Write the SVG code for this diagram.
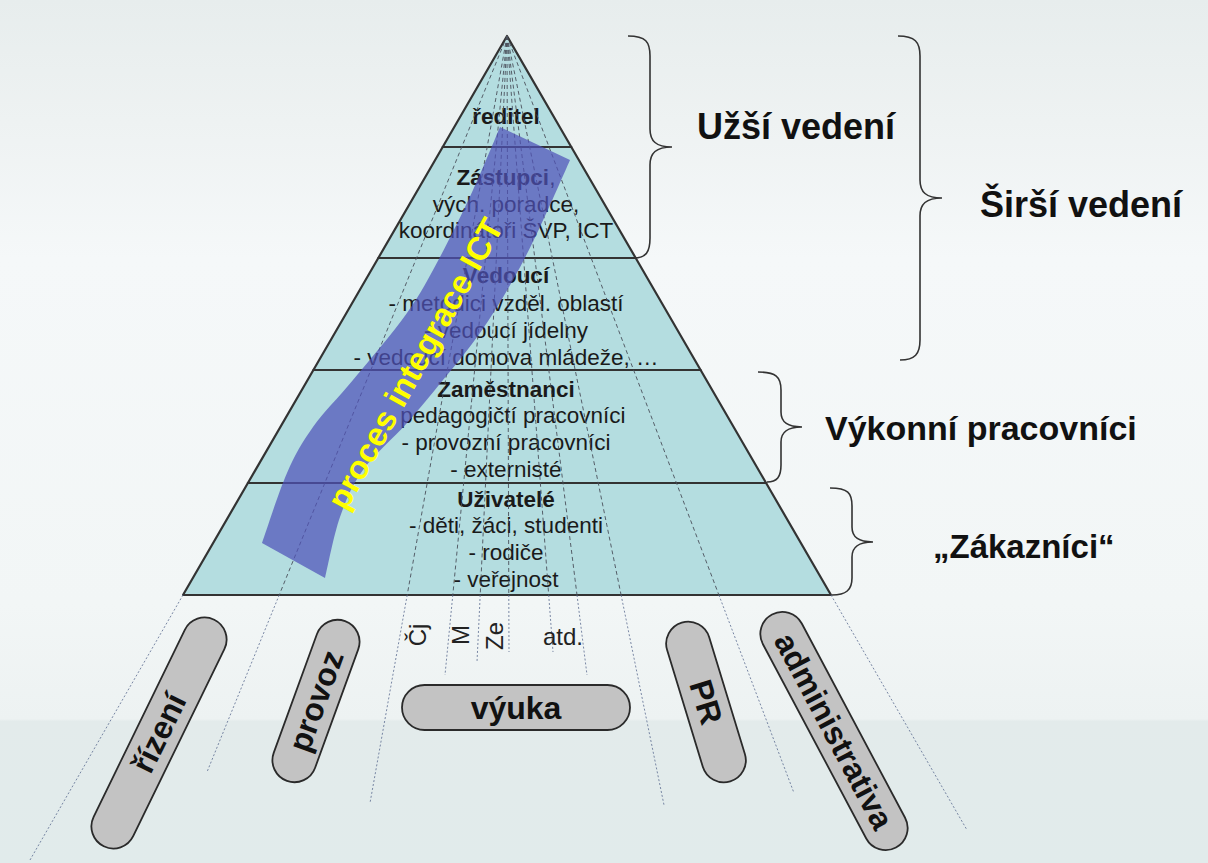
<svg xmlns="http://www.w3.org/2000/svg" width="1208" height="863" viewBox="0 0 1208 863">
<defs>
<linearGradient id="bg" x1="0" y1="0" x2="0" y2="1">
<stop offset="0" stop-color="#e7eded"/>
<stop offset="0.14" stop-color="#eef2f2"/>
<stop offset="0.3" stop-color="#f5f8f9"/>
<stop offset="0.7" stop-color="#f2f6f6"/>
<stop offset="0.833" stop-color="#edf2f2"/>
<stop offset="0.836" stop-color="#e3ebeb"/>
<stop offset="1" stop-color="#e1ebeb"/>
</linearGradient>
<style>
.lvl { fill:#b4dde0; stroke:#333; stroke-width:2.2; stroke-linejoin:round }
.t { font-family:"Liberation Sans",Arial,sans-serif; font-size:22.5px; fill:#1a1a1a; text-anchor:middle }
.b { font-weight:bold }
.ray-in { stroke:#4a4f5a; stroke-width:0.9; stroke-dasharray:4 3; fill:none }
.ray-out { stroke:#5b6b8f; stroke-width:0.8; stroke-dasharray:2 2; fill:none }
.brace { fill:none; stroke:#333; stroke-width:1.6 }
.lbl { font-family:"Liberation Sans",Arial,sans-serif; font-weight:bold; font-size:34px; fill:#111 }
.pill { fill:#c3c3c3; stroke:#2a2a2a; stroke-width:1.8 }
.pt { font-family:"Liberation Sans",Arial,sans-serif; font-weight:bold; font-size:32px; fill:#111; text-anchor:middle }
.sub { font-family:"Liberation Sans",Arial,sans-serif; font-size:24px; fill:#222; text-anchor:middle }
.band { fill:#4f52b8; fill-opacity:0.72; stroke:none }
.yt { font-family:"Liberation Sans",Arial,sans-serif; font-weight:bold; font-size:33px; fill:#ffff00; text-anchor:middle }
</style>
</defs>
<rect width="1208" height="863" fill="url(#bg)"/>

<g id="level-reditel">
<polygon class="lvl" points="507,36 571.3,147 442.7,147"/>
<text class="t b" x="506" y="124">ředitel</text>
</g>
<g id="level-zastupci">
<polygon class="lvl" points="442.7,147 571.3,147 635.7,258 378.3,258"/>
<text class="t" x="506" y="185"><tspan class="b">Zástupci</tspan>,</text>
<text class="t" x="506" y="212">vých. poradce,</text>
<text class="t" x="506" y="238">koordinátoři ŠVP, ICT</text>
</g>
<g id="level-vedouci">
<polygon class="lvl" points="378.3,258 635.7,258 700.6,370 313.4,370"/>
<text class="t b" x="506" y="283">Vedoucí</text>
<text class="t" x="506" y="311">- metodici vzděl. oblastí</text>
<text class="t" x="506" y="338">- vedoucí jídelny</text>
<text class="t" x="506" y="365">- vedoucí domova mládeže, …</text>
</g>
<g id="level-zamestnanci">
<polygon class="lvl" points="313.4,370 700.6,370 766.1,483 247.9,483"/>
<text class="t b" x="506" y="397">Zaměstnanci</text>
<text class="t" x="506" y="423">- pedagogičtí pracovníci</text>
<text class="t" x="506" y="450">- provozní pracovníci</text>
<text class="t" x="506" y="477">- externisté</text>
</g>
<g id="level-uzivatele">
<polygon class="lvl" points="247.9,483 766.1,483 831,595 183,595"/>
<text class="t b" x="506" y="507">Uživatelé</text>
<text class="t" x="506" y="533">- děti, žáci, studenti</text>
<text class="t" x="506" y="560">- rodiče</text>
<text class="t" x="506" y="587">- veřejnost</text>
</g>

<g id="connectors">
<path class="ray-out" d="M183,595 L30,860"/>
<path class="ray-in" d="M507,36 L279.2,595"/><path class="ray-out" d="M279.2,595 L207,772"/>
<path class="ray-in" d="M507,36 L407.2,595"/><path class="ray-out" d="M407.2,595 L370,803"/>
<path class="ray-in" d="M507,36 L452.8,595"/><path class="ray-out" d="M452.8,595 L445,675"/>
<path class="ray-in" d="M507,36 L480.2,595"/><path class="ray-out" d="M480.2,595 L477,662"/>
<path class="ray-in" d="M507,36 L508.8,595"/><path class="ray-out" d="M508.8,595 L509,652"/>
<path class="ray-in" d="M507,36 L548.7,595"/><path class="ray-out" d="M548.7,595 L553,652"/>
<path class="ray-in" d="M507,36 L577,595"/><path class="ray-out" d="M577,595 L587,675"/>
<path class="ray-in" d="M507,36 L621.1,595"/><path class="ray-out" d="M621.1,595 L664,805"/>
<path class="ray-in" d="M507,36 L718.9,595"/><path class="ray-out" d="M718.9,595 L794,793"/>
<path class="ray-out" d="M831,595 L967,830"/>
</g>

<g id="band-ict">
<path class="band" d="M262,543 C266.2,531.3 278.5,492.3 287,473 C295.5,453.7 302,442.5 313,427 C324,411.5 337.3,399 353,380 C368.7,361 392.5,333.5 407,313 C421.5,292.5 429,277.5 440,257 C451,236.5 463,211.7 473,190 C483,168.3 495.5,137.5 500,127 L570,160 C565,171.2 549.5,207 540,227 C530.5,247 523,262.3 513,280 C503,297.7 491.7,316.3 480,333 C468.3,349.7 455.2,365 443,380 C430.8,395 420.3,408 407,423 C393.7,438 374.2,454.3 363,470 C351.8,485.7 346.3,499 340,517 C333.7,535 327.5,567.8 325,578 Z"/>
<text class="yt" transform="translate(416,364) rotate(-61)" dy="0.32em">proces integrace ICT</text>
</g>

<g id="brace-uzsi">
<path class="brace" d="M628,36 C646,36 650,42 650,56 L650,129 C650,141 656,147 672,147 C656,147 650,153 650,165 L650,238 C650,252 646,258 634,258"/>
<text class="lbl" x="697" y="139" style="font-size:36px">Užší vedení</text>
</g>
<g id="brace-sirsi">
<path class="brace" d="M898,36 C915,36 920,42 920,56 L920,180 C920,192 926,198 942,198 C926,198 920,204 920,216 L920,340 C920,354 915,360 900,360"/>
<text class="lbl" x="980" y="217" style="font-size:36px">Širší vedení</text>
</g>
<g id="brace-vykonni">
<path class="brace" d="M758,372 C776,372 781,377 781,390 L781,412 C781,422 787,427 802,427 C787,427 781,432 781,442 L781,465 C781,477 777,482 767,482"/>
<text class="lbl" x="825" y="440">Výkonní pracovníci</text>
</g>
<g id="brace-zakaznici">
<path class="brace" d="M830,488 C848,488 852,493 852,506 L852,527 C852,537 858,542 873,542 C858,542 852,547 852,557 L852,578 C852,590 846,595 832,595"/>
<text class="lbl" x="933" y="558" style="font-size:33px">„Zákazníci“</text>
</g>

<g id="pill-rizeni" transform="translate(159,733) rotate(-64)">
<rect class="pill" x="-126" y="-22" width="252" height="44" rx="22"/>
<text class="pt" y="11">řízení</text>
</g>
<g id="pill-provoz" transform="translate(316,701) rotate(-70)">
<rect class="pill" x="-85" y="-22" width="170" height="44" rx="22"/>
<text class="pt" y="11">provoz</text>
</g>
<g id="pill-vyuka">
<rect class="pill" x="402" y="685" width="228" height="45" rx="22.5"/>
<text class="pt" x="516" y="719">výuka</text>
</g>
<g id="pill-pr" transform="translate(706,702) rotate(73)">
<rect class="pill" x="-83" y="-22" width="166" height="44" rx="22"/>
<text class="pt" y="11">PR</text>
</g>
<g id="pill-administrativa" transform="translate(834,731) rotate(62)">
<rect class="pill" x="-132" y="-22" width="264" height="44" rx="22"/>
<text class="pt" y="11">administrativa</text>
</g>

<g id="subjects">
<text class="sub" transform="translate(418,635) rotate(-90)" dy="0.35em">Čj</text>
<text class="sub" transform="translate(461,635) rotate(-90)" dy="0.35em">M</text>
<text class="sub" transform="translate(495,636) rotate(-90)" dy="0.35em">Ze</text>
<text class="sub" x="563" y="645">atd.</text>
</g>
</svg>
